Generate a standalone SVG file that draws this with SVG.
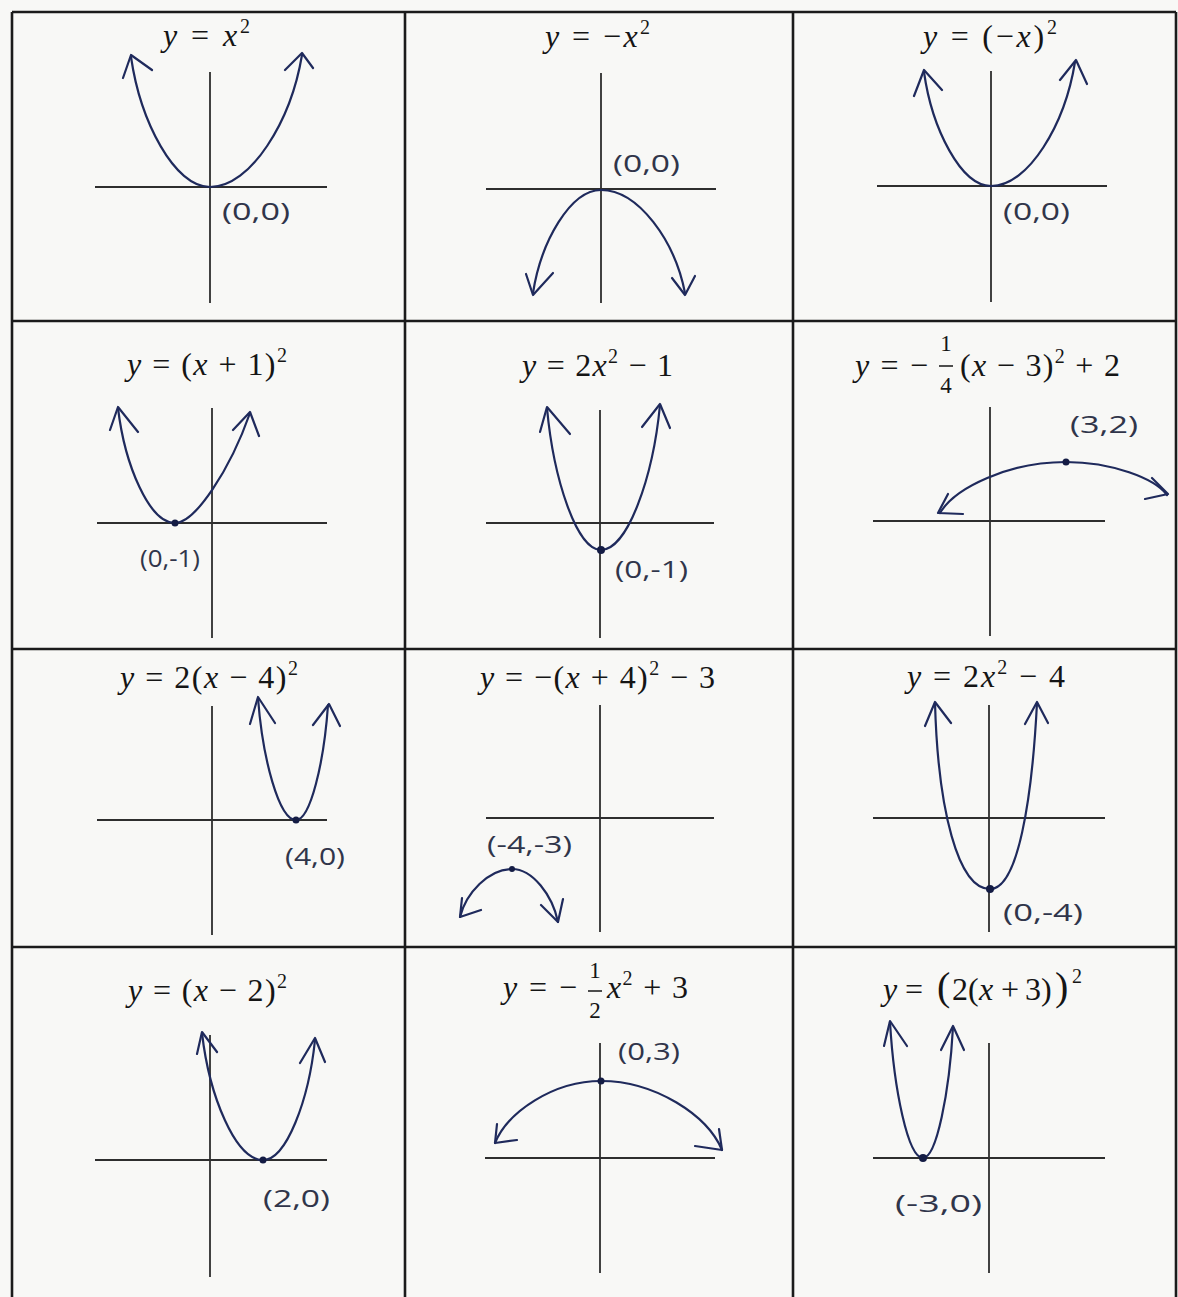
<svg xmlns="http://www.w3.org/2000/svg" width="1178" height="1297" viewBox="0 0 1178 1297">
<style>
.grid{stroke:#1b1b1b;stroke-width:2.6;fill:none}
.ax{stroke:#2e2e2e;stroke-width:1.8;fill:none}
.cv{stroke:#1f2a5c;stroke-width:2.2;fill:none;stroke-linecap:round;stroke-linejoin:round}
.dot{fill:#141c44}
.t{font-family:"Liberation Serif","DejaVu Serif",serif;font-size:32px;fill:#151515}
.i{font-style:italic}
.fr{font-family:"Liberation Serif","DejaVu Serif",serif;font-size:23px;fill:#151515;text-anchor:middle}
.hw{font-family:"Open Sans","DejaVu Sans",sans-serif;font-size:23px;fill:#30354a}
</style>
<rect x="0" y="0" width="1178" height="1297" fill="#f8f8f6"/>
<g id="grid">
<path class="grid" d="M12,12 H1176 M12,12 V1297 M1176,12 V1297 M405,12 V1297 M793,12 V1297 M12,321 H1176 M12,649 H1176 M12,947 H1176"/>
</g>

<g id="cell-1">
<text class="t" x="163" y="46" textLength="87" lengthAdjust="spacing"><tspan class="i">y</tspan> = <tspan class="i">x</tspan><tspan font-size="20" dy="-13">2</tspan></text>
<path class="ax" d="M95,187 H327 M210,72 V303"/>
<path class="cv" d="M131,57 C140.5,122 174.5,187 210,187 C251,187 291,121 302,55"/>
<path class="cv" d="M123,78 L131,55 L152,70 M285,70 L302,53 L313,68"/>
<text class="hw" x="222" y="220" textLength="68" lengthAdjust="spacingAndGlyphs">(0,0)</text>
</g>

<g id="cell-2">
<text class="t" x="545" y="47" textLength="105" lengthAdjust="spacing"><tspan class="i">y</tspan> = −<tspan class="i">x</tspan><tspan font-size="20" dy="-13">2</tspan></text>
<path class="ax" d="M486,189 H716 M601,73 V303"/>
<path class="cv" d="M533,293 C541,241.5 570.4,190 601,190 C638.8,190 675,241.5 685,293"/>
<path class="cv" d="M526,274 L533,295 L553,273 M672,278 L685,295 L695,276"/>
<text class="hw" x="613" y="172" textLength="67" lengthAdjust="spacingAndGlyphs">(0,0)</text>
</g>

<g id="cell-3">
<text class="t" x="923" y="47" textLength="134" lengthAdjust="spacing"><tspan class="i">y</tspan> = (−<tspan class="i">x</tspan>)<tspan font-size="20" dy="-13">2</tspan></text>
<path class="ax" d="M877,186 H1107 M991,71 V302"/>
<path class="cv" d="M924,72 C932,129 961,186 991,186 C1028.8,186 1065,124 1075,62"/>
<path class="cv" d="M914,96 L924,70 L942,90 M1060,80 L1076,60 L1087,84"/>
<text class="hw" x="1003" y="220" textLength="67" lengthAdjust="spacingAndGlyphs">(0,0)</text>
</g>

<g id="cell-4">
<text class="t" x="127" y="375" textLength="160" lengthAdjust="spacing"><tspan class="i">y</tspan> = (<tspan class="i">x</tspan> + 1)<tspan font-size="20" dy="-13">2</tspan></text>
<path class="ax" d="M97,523 H327 M212,408 V638"/>
<path class="cv" d="M118,408 C124.8,465.5 149.4,523 175,523 C195,523 230,470 250,413"/>
<path class="cv" d="M110,430 L118,407 L138,432 M233,430 L250,412 L259,436"/>
<circle class="dot" cx="175" cy="523" r="3.5"/>
<text class="hw" x="140" y="567" textLength="60" lengthAdjust="spacingAndGlyphs">(0,-1)</text>
</g>

<g id="cell-5">
<text class="t" x="522" y="376" textLength="151" lengthAdjust="spacing"><tspan class="i">y</tspan> = 2<tspan class="i">x</tspan><tspan font-size="20" dy="-13">2</tspan><tspan dy="13"> − 1</tspan></text>
<path class="ax" d="M486,523 H714 M600,410 V638"/>
<path class="cv" d="M547,408 C553.5,479 576.7,550 601,550 C627.5,550 653,477.5 660,405"/>
<path class="cv" d="M540,432 L547,407 L570,434 M642,427 L660,404 L670,428"/>
<circle class="dot" cx="601" cy="550" r="4"/>
<text class="hw" x="615" y="578" textLength="73" lengthAdjust="spacingAndGlyphs" font-size="27">(0,-1)</text>
</g>

<g id="cell-6">
<text class="t" x="855" y="376" textLength="73" lengthAdjust="spacing"><tspan class="i">y</tspan> = −</text>
<text class="fr" x="946" y="351">1</text>
<line x1="939" y1="366" x2="953" y2="366" stroke="#151515" stroke-width="1.5"/>
<text class="fr" x="946" y="393">4</text>
<text class="t" x="960" y="376" textLength="160" lengthAdjust="spacing">(<tspan class="i">x</tspan> − 3)<tspan font-size="20" dy="-13">2</tspan><tspan dy="13"> + 2</tspan></text>
<path class="ax" d="M873,521 H1105 M990,407 V636"/>
<path class="cv" d="M940,513 C955,487.5 1009,462 1066,462 C1111.5,462 1155,478.5 1167,495"/>
<path class="cv" d="M948,494 L938,513 L963,514 M1152,478 L1168,494 L1145,499"/>
<circle class="dot" cx="1066" cy="462" r="3.5"/>
<text class="hw" x="1070" y="433" textLength="68" lengthAdjust="spacingAndGlyphs">(3,2)</text>
</g>

<g id="cell-7">
<text class="t" x="120" y="688" textLength="178" lengthAdjust="spacing"><tspan class="i">y</tspan> = 2(<tspan class="i">x</tspan> − 4)<tspan font-size="20" dy="-13">2</tspan></text>
<path class="ax" d="M97,820 H327 M212,706 V935"/>
<path class="cv" d="M258,698 C262.6,759 279,820 296,820 C310.4,820 324,762.5 328,705"/>
<path class="cv" d="M250,724 L258,697 L275,723 M313,725 L329,704 L340,726"/>
<circle class="dot" cx="296" cy="820" r="3.5"/>
<text class="hw" x="285" y="865" textLength="60" lengthAdjust="spacingAndGlyphs">(4,0)</text>
</g>

<g id="cell-8">
<text class="t" x="480" y="688" textLength="235" lengthAdjust="spacing"><tspan class="i">y</tspan> = −(<tspan class="i">x</tspan> + 4)<tspan font-size="20" dy="-13">2</tspan><tspan dy="13"> − 3</tspan></text>
<path class="ax" d="M486,818 H714 M600,705 V932"/>
<path class="cv" d="M460,917 C466,893 488.6,869 512,869 C532.7,869 552.5,895.5 558,922"/>
<path class="cv" d="M462,898 L460,917 L481,910 M541,905 L558,922 L563,899"/>
<circle class="dot" cx="512" cy="869" r="3"/>
<text class="hw" x="487" y="853" textLength="85" lengthAdjust="spacingAndGlyphs">(-4,-3)</text>
</g>

<g id="cell-9">
<text class="t" x="907" y="687" textLength="158" lengthAdjust="spacing"><tspan class="i">y</tspan> = 2<tspan class="i">x</tspan><tspan font-size="20" dy="-13">2</tspan><tspan dy="13"> − 4</tspan></text>
<path class="ax" d="M873,818 H1105 M989,705 V932"/>
<path class="cv" d="M935,703 C938,810 958,889 990,889 C1018,889 1032,800 1037,703"/>
<path class="cv" d="M925,726 L935,702 L951,723 M1025,724 L1037,702 L1048,723"/>
<circle class="dot" cx="990" cy="889" r="4"/>
<text class="hw" x="1003" y="921" textLength="80" lengthAdjust="spacingAndGlyphs">(0,-4)</text>
</g>

<g id="cell-10">
<text class="t" x="128" y="1001" textLength="159" lengthAdjust="spacing"><tspan class="i">y</tspan> = (<tspan class="i">x</tspan> − 2)<tspan font-size="20" dy="-13">2</tspan></text>
<path class="ax" d="M95,1160 H327 M210,1035 V1277"/>
<path class="cv" d="M202,1033 C209.3,1096.5 235.5,1160 263,1160 C286.4,1160 308.8,1100 315,1040"/>
<path class="cv" d="M197,1054 L202,1032 L217,1052 M300,1063 L315,1038 L325,1062"/>
<circle class="dot" cx="263" cy="1160" r="3.5"/>
<text class="hw" x="263" y="1207" textLength="67" lengthAdjust="spacingAndGlyphs">(2,0)</text>
</g>

<g id="cell-11">
<text class="t" x="503" y="998" textLength="74" lengthAdjust="spacing"><tspan class="i">y</tspan> = −</text>
<text class="fr" x="595" y="978">1</text>
<line x1="588" y1="991" x2="602" y2="991" stroke="#151515" stroke-width="1.5"/>
<text class="fr" x="595" y="1018">2</text>
<text class="t" x="607" y="998" textLength="81" lengthAdjust="spacing"><tspan class="i">x</tspan><tspan font-size="20" dy="-13">2</tspan><tspan dy="13"> + 3</tspan></text>
<path class="ax" d="M485,1158 H715 M600,1043 V1273"/>
<path class="cv" d="M495,1143 C507.7,1112 553.3,1081 601,1081 C655.5,1081 707.5,1115.5 722,1150"/>
<path class="cv" d="M497,1124 L495,1143 L517,1140 M695,1146 L722,1150 L719,1129"/>
<circle class="dot" cx="601" cy="1081" r="3.5"/>
<text class="hw" x="618" y="1060" textLength="62" lengthAdjust="spacingAndGlyphs">(0,3)</text>
</g>

<g id="cell-12">
<text class="t" y="1000"><tspan class="i" x="883">y</tspan><tspan x="905">=</tspan><tspan x="937" font-size="40">(</tspan><tspan x="952">2(</tspan><tspan class="i" x="979">x</tspan><tspan x="1001">+</tspan><tspan x="1025">3)</tspan><tspan x="1055" font-size="40">)</tspan><tspan x="1072" y="983" font-size="20">2</tspan></text>
<path class="ax" d="M873,1158 H1105 M989,1043 V1273"/>
<path class="cv" d="M890,1022 C894,1090 908,1158 923,1158 C936.5,1158 949.4,1092.5 953,1027"/>
<path class="cv" d="M884,1046 L890,1021 L907,1046 M941,1050 L953,1026 L964,1050"/>
<circle class="dot" cx="923" cy="1158" r="4"/>
<text class="hw" x="895" y="1212" textLength="87" lengthAdjust="spacingAndGlyphs" font-size="27">(-3,0)</text>
</g>
</svg>
